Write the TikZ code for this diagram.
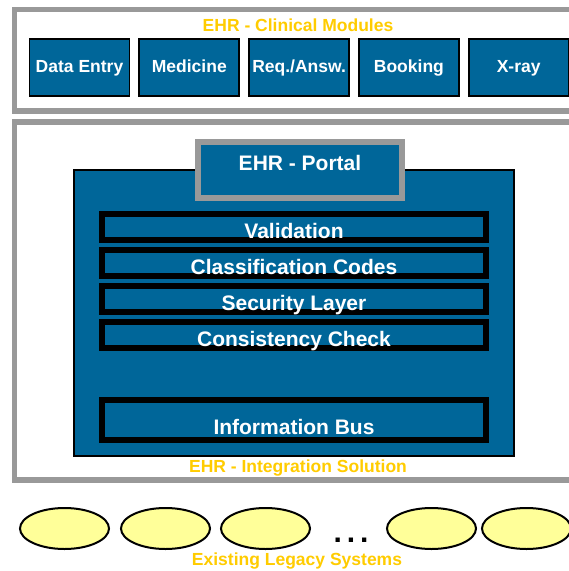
\documentclass[tikz,border=0pt]{standalone}
\usepackage{fontspec}
\setmainfont{Liberation Sans}
\usetikzlibrary{positioning,shapes.geometric}
\definecolor{ehrblue}{RGB}{0,102,153}
\definecolor{rammegray}{RGB}{153,153,153}
\definecolor{ehrgold}{RGB}{255,204,0}
\definecolor{legacyyellow}{RGB}{255,255,153}

\begin{document}
\begin{tikzpicture}[
    x=1pt, y=-1pt,
    every node/.style={inner sep=0pt, font=\bfseries},
    ramme/.style={draw=rammegray, line width=5.5pt},
    overskrift/.style={text=ehrgold, anchor=base,
        font=\bfseries\fontsize{17.5}{20}\selectfont},
    modul/.style={rectangle, draw=black, line width=1.8pt, fill=ehrblue, text=white,
        minimum width=100pt, minimum height=57pt, text height=13pt, text depth=4pt,
        font=\bfseries\fontsize{17.5}{20}\selectfont},
    lag/.style={rectangle, draw=black, line width=6pt, fill=ehrblue, text=white,
        minimum width=384pt, text height=24pt, text depth=2pt,
        font=\bfseries\fontsize{21}{24}\selectfont},
    legacy/.style={ellipse, draw=black, line width=2pt, fill=legacyyellow,
        minimum width=89pt, minimum height=41pt}
    ]
\clip (0,0) rectangle (569,571);
\fill[white] (0,0) rectangle (569,571);

%Clinical modules
\draw[ramme] (14.5,9.5) rectangle (600,111);
\node[overskrift] (modtitle) at (298,31) {EHR - Clinical Modules};
\node[modul] (dataentry) at (79.5,67.5) {Data Entry};
\node[modul] (medicine) [right=8pt of dataentry] {Medicine};
\node[modul] (reqansw) [right=8pt of medicine] {Req./Answ.};
\node[modul] (booking) [right=8pt of reqansw] {Booking};
\node[modul] (xray) [right=8pt of booking] {X-ray};

%Integration solution
\draw[ramme] (14.5,122) rectangle (600,480);
\node[rectangle, draw=black, line width=1.5pt, fill=ehrblue,
      minimum width=440pt, minimum height=286pt] (integration) at (294,313) {};
\node[rectangle, draw=rammegray, line width=6pt, fill=ehrblue, text=white,
      minimum width=204pt, text height=28.5pt, text depth=27.5pt,
      font=\bfseries\fontsize{21}{24}\selectfont] (portal) at (300,170) {EHR - Portal};
\node[lag] (validation) at (294,227) {Validation};
\node[lag] (classcodes) [below=4pt of validation] {Classification Codes};
\node[lag] (security) [below=4pt of classcodes] {Security Layer};
\node[lag] (consistency) [below=4pt of security] {Consistency Check};
\node[lag] [text height=34pt, text depth=6pt] (infobus) at (294,420) {Information Bus};
\node[overskrift] (inttitle) at (298,472) {EHR - Integration Solution};

%Legacy systems
\node[legacy] (legacy1) at (64.5,528.5) {};
\node[legacy] (legacy2) at (165.5,528.5) {};
\node[legacy] (legacy3) at (265.5,528.5) {};
\node[anchor=base, font=\bfseries\fontsize{30}{30}\selectfont]
      (prikker) at (351,542) {.\hspace{5pt}.\hspace{5pt}.};
\node[legacy] (legacy4) at (431.5,528.5) {};
\node[legacy] (legacy5) at (526.5,528.5) {};
\node[overskrift] (legtitle) at (297,565) {Existing Legacy Systems};
\end{tikzpicture}
\end{document}
